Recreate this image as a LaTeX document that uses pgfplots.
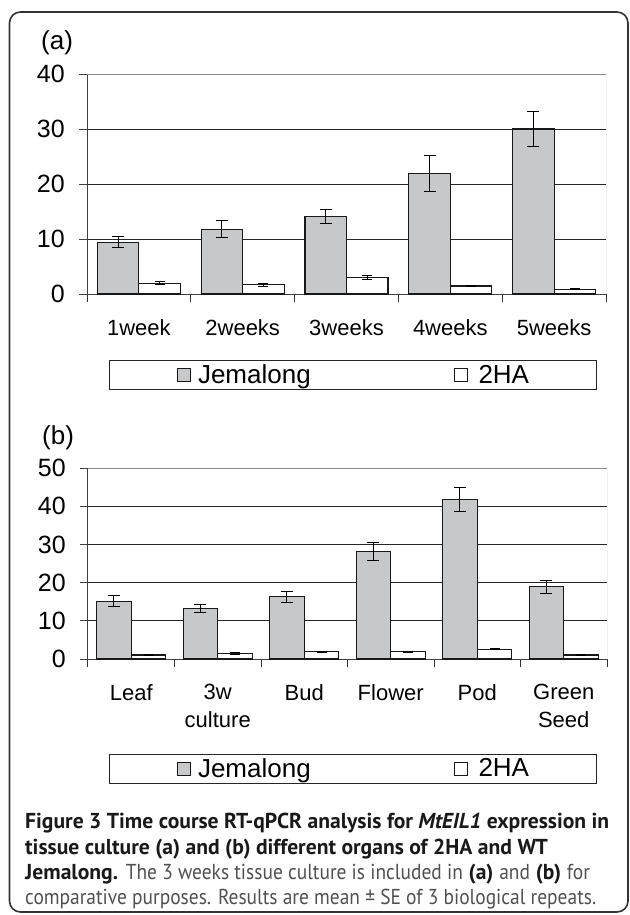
\documentclass[border=0pt]{standalone}
\usepackage{fontspec}
\setmainfont{Liberation Sans}
\newfontfamily\capfont{PT Sans}
\newfontfamily\capreg[FakeStretch=0.9]{PT Sans}
\usepackage{pgfplots}
\pgfplotsset{compat=1.18}
\definecolor{bargray}{RGB}{199,200,202}
\definecolor{capgray}{RGB}{80,80,80}

\pgfplotsset{
  mybars/.style={
    scale only axis,
    width=519pt,
    ymin=0,
    ybar=0pt, bar width=0.4,
    /pgf/number format/assume math mode=true,
    axis x line*=bottom,
    axis y line*=left,
    axis line style={black!75, line width=1pt},
    tick align=outside,
    major tick length=8pt,
    minor tick length=8pt,
    major x tick style={draw=none},
    minor x tick style={black!80, line width=1pt},
    y tick style={black!75, line width=1pt},
    ymajorgrids,
    major grid style={black!85, line width=0.9pt},
    yticklabel style={font=\fontsize{25}{25}\selectfont, inner sep=0pt, xshift=-14pt},
    xticklabel style={font=\fontsize{22}{28}\selectfont, inner sep=0pt, align=center, anchor=north, yshift=-17pt},
    legend columns=2,
    legend image code/.code={\path[draw=none, fill=none] (-68pt,0pt) -- (0pt,0pt); \draw[#1, line width=1pt] (0pt,-6.5pt) rectangle (13pt,6.5pt);},
  },
  jem/.style={fill=bargray, draw=black!90, line width=1.1pt,
    error bars/.cd, y dir=both, y explicit,
    error bar style={black, line width=1pt},
    error mark options={rotate=90, mark size=6pt, line width=1pt, black}},
  ha/.style={fill=white, draw=black!90, line width=1.1pt,
    error bars/.cd, y dir=both, y explicit,
    error bar style={black, line width=1pt},
    error mark options={rotate=90, mark size=5pt, line width=1pt, black}},
  leg/.style={legend style={at={(rel axis cs:#1)}, anchor=north west,
    inner xsep=0pt, inner ysep=4pt, column sep=0pt,
    nodes={inner sep=0pt, text depth=0.2em},
    draw=black!85, line width=1pt,
    font=\fontsize{26}{30}\selectfont}},
}

\begin{document}
\begin{tikzpicture}
\path[use as bounding box] (0,0) rectangle (629pt,-915pt);
\draw[black!80, line width=1.6pt, rounded corners=11pt] (9.5pt,-12pt) rectangle (628pt,-912pt);

\node[anchor=west, inner sep=0pt, font=\fontsize{26}{30}\selectfont] at (41pt,-43pt) {(a)};
\begin{axis}[mybars, at={(87pt,-294pt)}, anchor=south west, height=220pt,
  xmin=-0.5, xmax=4.5,
  ymax=40, ytick={0,10,20,30,40},
  xtick={0,1,2,3,4},
  xticklabels={1week,2weeks,3weeks,4weeks,5weeks},
  minor xtick={-0.5,0.5,1.5,2.5,3.5,4.5},
  leg={0.0424,-0.3}]
\addplot[jem] coordinates {(0,9.4)+-(0,1.0) (1,11.8)+-(0,1.6) (2,14.1)+-(0,1.2) (3,21.9)+-(0,3.2) (4,30.0)+-(0,3.2)};
\addlegendentry{\makebox[195pt][l]{\hspace{7pt}Jemalong}}
\addplot[ha] coordinates {(0,1.95)+-(0,0.3) (1,1.7)+-(0,0.25) (2,3.0)+-(0,0.4) (3,1.45)+-(0,0.15) (4,0.9)+-(0,0.12)};
\addlegendentry{\makebox[129pt][l]{\hspace{11pt}2HA}}
\draw[black!45, line width=1pt] (rel axis cs:0,1) -- (rel axis cs:1,1) -- (rel axis cs:1,0);
\end{axis}

\node[anchor=west, inner sep=0pt, font=\fontsize{26}{30}\selectfont] at (42pt,-438pt) {(b)};
\begin{axis}[mybars, at={(88pt,-659pt)}, anchor=south west, height=191pt,
  xmin=-0.5, xmax=5.5,
  ymax=50, ytick={0,10,20,30,40,50},
  xtick={0,1,2,3,4,5},
  xticklabels={Leaf,{3w\\culture},Bud,Flower,Pod,{Green\\Seed}},
  minor xtick={-0.5,0.5,1.5,2.5,3.5,4.5,5.5},
  leg={0.0405,-0.497}]
\addplot[jem] coordinates {(0,15.1)+-(0,1.4) (1,13.3)+-(0,1.05) (2,16.3)+-(0,1.5) (3,28.2)+-(0,2.4) (4,41.7)+-(0,3.2) (5,18.9)+-(0,1.65)};
\addlegendentry{\makebox[195pt][l]{\hspace{7pt}Jemalong}}
\addplot[ha] coordinates {(0,1.05)+-(0,0.2) (1,1.5)+-(0,0.2) (2,1.85)+-(0,0.15) (3,1.85)+-(0,0.2) (4,2.6)+-(0,0.2) (5,1.05)+-(0,0.2)};
\addlegendentry{\makebox[129pt][l]{\hspace{11pt}2HA}}
\draw[black!45, line width=1pt] (rel axis cs:0,1) -- (rel axis cs:1,1) -- (rel axis cs:1,0);
\end{axis}

\node[anchor=north west, inner sep=0pt, align=left, font=\capfont\fontsize{21.6}{25.4}\selectfont, text=capgray] at (25pt,-813pt)
{\textcolor{black!90}{\textbf{Figure 3 Time course RT-qPCR analysis for \textit{MtEIL1} expression in}}\\
\textcolor{black!90}{\textbf{tissue culture (a) and (b) different organs of 2HA and WT}}\\
\textcolor{black!90}{\textbf{Jemalong.}} {\capreg The 3 weeks tissue culture is included in} \textcolor{black!90}{\textbf{(a)}} {\capreg and} \textcolor{black!90}{\textbf{(b)}} {\capreg for}\\
{\capreg comparative purposes. Results are mean ± SE of 3 biological repeats.}};
\end{tikzpicture}
\end{document}
